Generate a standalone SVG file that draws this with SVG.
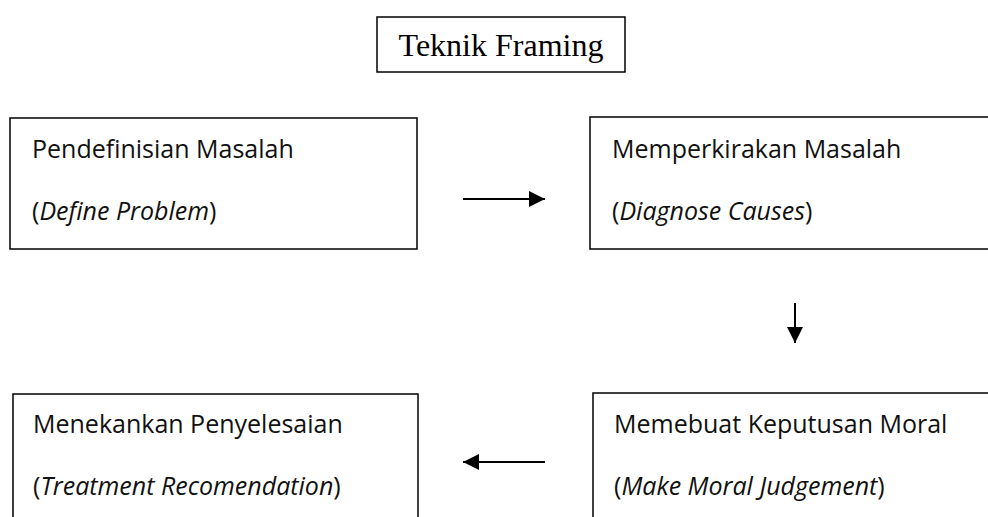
<svg xmlns="http://www.w3.org/2000/svg" width="988" height="517" viewBox="0 0 988 517">
<style>
.box{fill:#fff;stroke:#000;stroke-width:1.5}
.t{font-family:"Open Sans","Noto Sans",sans-serif;font-size:25px;fill:#111}
.i{font-style:italic}
.title{font-family:"Liberation Serif",serif;font-size:32px;fill:#000;text-anchor:middle}
.c{stroke:#000;stroke-width:2;fill:none}
</style>
<defs>
<marker id="ah" viewBox="0 0 10 10" refX="10" refY="5" markerWidth="8" markerHeight="8" markerUnits="strokeWidth" orient="auto">
<path d="M0,0 L10,5 L0,10 Z" fill="#000"/>
</marker>
</defs>
<rect width="988" height="517" fill="#fff"/>
<g id="title">
<rect class="box" x="377" y="17" width="248" height="55"/>
<text class="title" x="501" y="56">Teknik Framing</text>
</g>
<g id="define">
<rect class="box" x="10" y="118" width="407" height="131"/>
<text class="t" x="32" y="158">Pendefinisian Masalah</text>
<text class="t" x="32" y="220">(<tspan class="i">Define Problem</tspan>)</text>
</g>
<g id="diagnose">
<rect class="box" x="590" y="117" width="410" height="132"/>
<text class="t" x="612" y="158">Memperkirakan Masalah</text>
<text class="t" x="612" y="220">(<tspan class="i">Diagnose Causes</tspan>)</text>
</g>
<g id="moral">
<rect class="box" x="593" y="393" width="410" height="140"/>
<text class="t" x="614" y="433">Memebuat Keputusan Moral</text>
<text class="t" x="614" y="495">(<tspan class="i">Make Moral Judgement</tspan>)</text>
</g>
<g id="treatment">
<rect class="box" x="13" y="394" width="405" height="140"/>
<text class="t" x="33" y="433">Menekankan Penyelesaian</text>
<text class="t" x="33" y="495">(<tspan class="i">Treatment Recomendation</tspan>)</text>
</g>
<g id="connectors">
<line class="c" x1="463" y1="199" x2="545" y2="199" marker-end="url(#ah)"/>
<line class="c" x1="795" y1="303" x2="795" y2="343" marker-end="url(#ah)"/>
<line class="c" x1="545" y1="462" x2="463" y2="462" marker-end="url(#ah)"/>
</g>
</svg>
